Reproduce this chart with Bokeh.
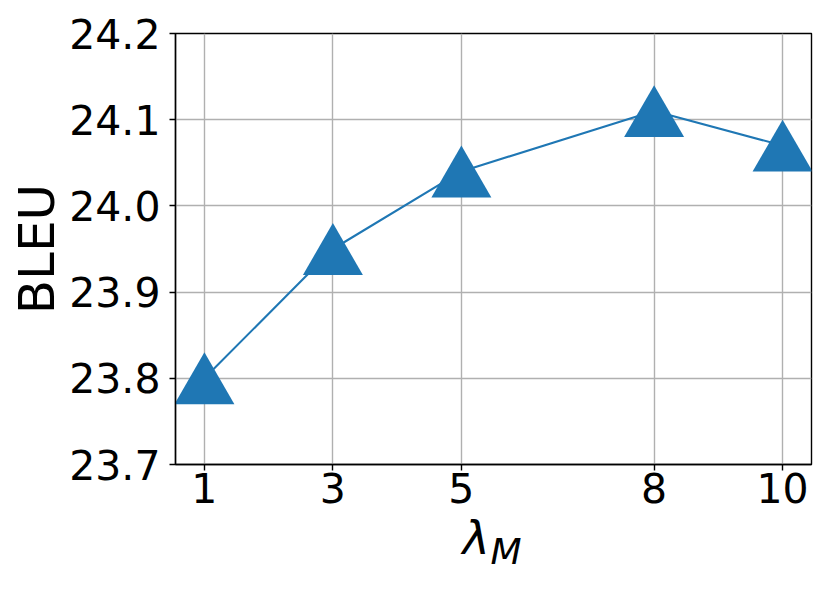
from bokeh.plotting import figure
from bokeh.models import Range1d, FixedTicker, ColumnDataSource, Title
from bokeh.transform import dodge
from bokeh.embed import file_html
from bokeh.resources import INLINE

lambda_m = [1, 3, 5, 8, 10]
bleu = [23.80, 23.95, 24.04, 24.11, 24.07]
x_ticks = [1, 3, 5, 8, 10]
y_ticks = [23.7, 23.8, 23.9, 24.0, 24.1, 24.2]
y_tick_labels = {23.7: "23.7", 23.8: "23.8", 23.9: "23.9", 24.0: "24.0", 24.1: "24.1", 24.2: "24.2"}

BLUE = "#1f77b4"
FONT = "DejaVu Sans"

src = ColumnDataSource(dict(x=lambda_m, y=bleu))

p = figure(width=822, height=585, output_backend="svg", toolbar_location=None,
           x_range=Range1d(0.55, 10.45), y_range=Range1d(23.7, 24.2),
           min_border_left=175, min_border_right=11, min_border_top=33, min_border_bottom=121)

p.background_fill_color = "white"
p.border_fill_color = "white"
p.outline_line_color = "black"
p.outline_line_width = 1.4

p.xaxis.ticker = FixedTicker(ticks=x_ticks)
p.yaxis.ticker = FixedTicker(ticks=y_ticks)
p.yaxis.major_label_overrides = y_tick_labels

for ax in (p.xaxis, p.yaxis):
    ax.axis_line_color = "black"
    ax.axis_line_width = 1.4
    ax.major_tick_line_color = "black"
    ax.major_tick_line_width = 1.4
    ax.major_tick_out = 6
    ax.major_tick_in = 0
    ax.minor_tick_line_color = None
    ax.major_label_text_font = FONT
    ax.major_label_text_font_size = "41px"
    ax.major_label_text_color = "black"

p.xaxis.major_label_standoff = 2
p.yaxis.major_label_standoff = 9
p.yaxis.axis_label = "BLEU"
p.yaxis.axis_label_text_font = FONT
p.yaxis.axis_label_text_font_size = "50px"
p.yaxis.axis_label_text_font_style = "normal"
p.yaxis.axis_label_text_color = "black"
p.yaxis.axis_label_standoff = 0

p.grid.grid_line_color = "#b0b0b0"
p.grid.grid_line_width = 1.4

p.line("x", "y", source=src, line_color=BLUE, line_width=2.1)
p.scatter(x="x", y=dodge("y", -0.0101, range=p.y_range), source=src, marker="triangle",
          size=60, fill_color=BLUE, line_color=BLUE, line_width=0)

# x-axis label: lambda with subscript M
p.add_layout(Title(text="λ", align="left", offset=287, standoff=6, vertical_align="bottom",
                   text_font=FONT, text_font_size="46px", text_font_style="italic",
                   text_color="black"), "below")
p.add_layout(Title(text="M", align="left", offset=315, standoff=-73, vertical_align="top",
                   text_font=FONT, text_font_size="36px", text_font_style="italic",
                   text_color="black"), "below")

open("out.html", "w").write(file_html(p, INLINE))
